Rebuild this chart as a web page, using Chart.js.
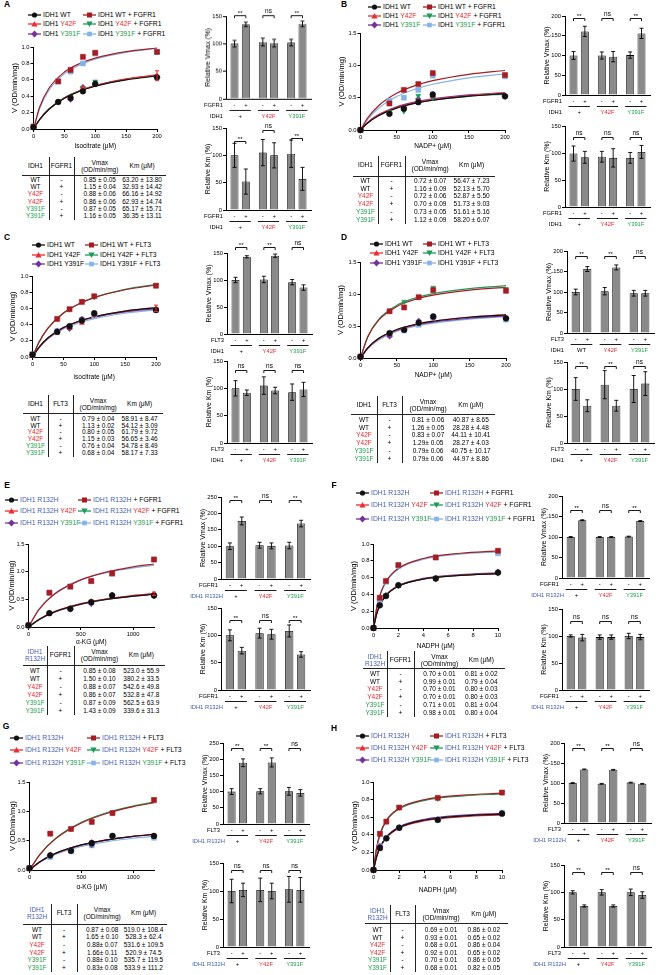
<!DOCTYPE html>
<html>
<head>
<meta charset="utf-8">
<script src="https://cdn.jsdelivr.net/npm/chart.js@4/dist/chart.umd.min.js"></script>
<style>
  html, body { margin: 0; background: #fff; }
  #fig { position: relative; width: 658px; height: 975px; overflow: hidden; font-family: "Liberation Sans", Arial, Helvetica, sans-serif; color: #000; }
  #fig canvas { position: absolute; }
</style>
</head>
<body>
<div id="fig"></div>
<script>
// Series order everywhere: WT, WT + kinase, Y42F, Y42F + kinase, Y391F, Y391F + kinase

// α-KG axis tick labels (panels E and G)
const kgTicks = [0, 500, 1000];

// ─── Panel A: isocitrate, IDH1 ± FGFR1 ─────────────────────────
const subA = [0, 40, 60, 80, 100, 200];
const obsA = [
  [0.02, 0.33, 0.38, 0.46, 0.55, 0.63],
  [0.03, 0.58, 0.72, 0.88, 0.93, 0.94],
  [0.03, 0.33, 0.37, 0.50, 0.55, 0.65],
  [0.03, 0.33, 0.39, 0.50, 0.58, 0.62],
  [0.03, 0.33, 0.36, 0.51, 0.55, 0.63],
  [0.03, 0.58, 0.70, 0.80, 0.92, 0.94]
];
const errA = [0, 0, 0, 0, 0, 0.06];
const fitSubA = [0, 10, 25, 50, 75, 100, 150, 200];
const fitA = [
  [0, 0.116, 0.241, 0.375, 0.461, 0.521, 0.598, 0.646],
  [0, 0.268, 0.497, 0.694, 0.799, 0.865, 0.943, 0.988],
  [0, 0.115, 0.241, 0.379, 0.467, 0.529, 0.611, 0.661],
  [0, 0.118, 0.245, 0.381, 0.468, 0.528, 0.606, 0.654],
  [0, 0.116, 0.241, 0.378, 0.465, 0.527, 0.606, 0.656],
  [0, 0.250, 0.473, 0.672, 0.781, 0.851, 0.934, 0.982]
];
const vmaxA = [100, 135, 103, 101, 102, 136];
const vmaxErrA = [6, 4, 7, 7, 6, 5];
const vmaxSigA = ['**', 'ns', '**'];
const vmaxBrA = [152, 152, 152];
const kmA = [100, 52, 105, 100, 103, 57];
const kmErrA = [22, 23, 24, 23, 25, 21];
const kmSigA = ['**', 'ns', '**'];
const kmBrA = [126, 146, 132];
const vmaxTblA = ['0.85 ± 0.05', '1.15 ± 0.04', '0.88 ± 0.06', '0.86 ± 0.06', '0.87 ± 0.05', '1.16 ± 0.05'];
const kmTblA = ['63.20 ± 13.80', '32.93 ± 14.42', '66.16 ± 14.92', '62.93 ± 14.74', '65.17 ± 15.71', '36.35 ± 13.11'];

// ─── Panel B: NADP+, IDH1 ± FGFR1 ──────────────────────────────
const subB = [0, 40, 60, 80, 100, 200];
const obsB = [
  [0, 0.25, 0.33, 0.43, 0.55, 0.52],
  [0, 0.41, 0.62, 0.71, 0.88, 0.85],
  [0, 0.26, 0.35, 0.45, 0.53, 0.53],
  [0, 0.28, 0.29, 0.53, 0.50, 0.52],
  [0, 0.27, 0.35, 0.48, 0.51, 0.53],
  [0, 0.45, 0.50, 0.62, 0.84, 0.83]
];
const fitSubB = [0, 10, 25, 50, 75, 100, 150, 200];
const fitB = [
  [0, 0.108, 0.221, 0.338, 0.411, 0.460, 0.523, 0.561],
  [0, 0.187, 0.376, 0.568, 0.684, 0.763, 0.861, 0.920],
  [0, 0.115, 0.231, 0.350, 0.422, 0.471, 0.532, 0.569],
  [0, 0.113, 0.228, 0.344, 0.414, 0.461, 0.521, 0.556],
  [0, 0.118, 0.238, 0.359, 0.432, 0.482, 0.543, 0.580],
  [0, 0.164, 0.337, 0.518, 0.631, 0.708, 0.807, 0.868]
];
const vmaxB = [100, 161, 100, 97, 101, 156];
const vmaxErrB = [10, 13, 9, 13, 8, 13];
const vmaxSigB = ['**', 'ns', '**'];
const vmaxBrB = [194, 194, 194];
const kmB = [99, 92, 93, 91, 91, 102];
const kmErrB = [14, 11, 10, 17, 10, 12];
const kmSigB = ['ns', 'ns', 'ns'];
const kmBrB = [130, 130, 130];
const vmaxTblB = ['0.72 ± 0.07', '1.16 ± 0.09', '0.72 ± 0.06', '0.70 ± 0.09', '0.73 ± 0.05', '1.12 ± 0.09'];
const kmTblB = ['56.47 ± 7.23', '52.13 ± 5.70', '52.87 ± 5.50', '51.73 ± 9.03', '51.61 ± 5.16', '58.20 ± 6.07'];

// ─── Panel C: isocitrate, IDH1 ± FLT3 ──────────────────────────
const subC = [0, 40, 60, 80, 100, 200];
const obsC = [
  [0.03, 0.31, 0.38, 0.45, 0.54, 0.58],
  [0.03, 0.47, 0.59, 0.68, 0.75, 0.88],
  [0.03, 0.30, 0.36, 0.42, 0.52, 0.60],
  [0.03, 0.47, 0.59, 0.69, 0.74, 0.89],
  [0.03, 0.32, 0.35, 0.47, 0.52, 0.58],
  [0.03, 0.32, 0.37, 0.46, 0.51, 0.58]
];
const errC = [0, 0, 0, 0, 0, 0.04];
const fitSubC = [0, 10, 25, 50, 75, 100, 150, 200];
const fitC = [
  [0, 0.115, 0.235, 0.363, 0.442, 0.497, 0.567, 0.610],
  [0, 0.176, 0.357, 0.543, 0.656, 0.733, 0.830, 0.889],
  [0, 0.111, 0.230, 0.358, 0.439, 0.494, 0.567, 0.611],
  [0, 0.173, 0.352, 0.539, 0.655, 0.734, 0.835, 0.896],
  [0, 0.117, 0.238, 0.363, 0.439, 0.491, 0.557, 0.597],
  [0, 0.110, 0.225, 0.347, 0.422, 0.474, 0.540, 0.581]
];
const vmaxC = [100, 143, 101, 145, 96, 86];
const vmaxErrC = [5, 2, 6, 3, 5, 5];
const vmaxSigC = ['**', '**', 'ns'];
const vmaxBrC = [162, 162, 162];
const kmC = [100, 92, 105, 96, 93, 98];
const kmErrC = [14, 5, 16, 6, 15, 13];
const kmSigC = ['ns', 'ns', 'ns'];
const kmBrC = [134, 134, 134];
const vmaxTblC = ['0.79 ± 0.04', '1.13 ± 0.02', '0.80 ± 0.05', '1.15 ± 0.03', '0.76 ± 0.04', '0.68 ± 0.04'];
const kmTblC = ['58.91 ± 8.47', '54.12 ± 3.09', '61.79 ± 9.72', '56.65 ± 3.46', '54.78 ± 8.49', '58.17 ± 7.33'];

// ─── Panel D: NADP+, IDH1 ± FLT3 ───────────────────────────────
const subD = [0, 40, 60, 80, 100, 200];
const obsD = [
  [0.02, 0.39, 0.44, 0.55, 0.65, 0.62],
  [0.02, 0.73, 0.79, 0.95, 1.06, 1.05],
  [0.02, 0.37, 0.44, 0.55, 0.64, 0.62],
  [0.02, 0.74, 0.88, 0.95, 1.10, 1.08],
  [0.02, 0.34, 0.44, 0.58, 0.63, 0.62],
  [0.02, 0.36, 0.43, 0.52, 0.63, 0.60]
];
const fitSubD = [0, 10, 25, 50, 75, 100, 150, 200];
const fitD = [
  [0, 0.159, 0.307, 0.446, 0.524, 0.575, 0.637, 0.673],
  [0, 0.329, 0.591, 0.805, 0.915, 0.982, 1.060, 1.104],
  [0, 0.153, 0.300, 0.441, 0.523, 0.576, 0.641, 0.680],
  [0, 0.337, 0.605, 0.824, 0.937, 1.006, 1.085, 1.130],
  [0, 0.156, 0.300, 0.435, 0.512, 0.561, 0.621, 0.656],
  [0, 0.144, 0.282, 0.416, 0.494, 0.545, 0.608, 0.645]
];
const vmaxD = [100, 156, 102, 160, 97, 97];
const vmaxErrD = [7, 6, 9, 6, 7, 7];
const vmaxSigD = ['**', '**', 'ns'];
const vmaxBrD = [188, 188, 188];
const kmD = [100, 69, 108, 69, 100, 110];
const kmErrD = [21, 11, 26, 10, 25, 22];
const kmSigD = ['**', '**', 'ns'];
const kmBrD = [143, 143, 143];
const vmaxTblD = ['0.81 ± 0.06', '1.26 ± 0.05', '0.83 ± 0.07', '1.29± 0.05', '0.79± 0.06', '0.79± 0.06'];
const kmTblD = ['40.87 ± 8.65', '28.28 ± 4.48', '44.11 ± 10.41', '28.27 ± 4.03', '40.75 ± 10.17', '44.97 ± 8.86'];

// ─── Panel E: α-KG, IDH1 R132H ± FGFR1 ─────────────────────────
const subE = [0, 200, 400, 600, 800, 1200];
const obsE = [
  [0.03, 0.25, 0.33, 0.45, 0.57, 0.57],
  [0.03, 0.62, 0.73, 0.83, 0.97, 1.22],
  [0.03, 0.25, 0.33, 0.46, 0.56, 0.60],
  [0.03, 0.25, 0.34, 0.46, 0.57, 0.57],
  [0.03, 0.25, 0.32, 0.42, 0.58, 0.56],
  [0.03, 0.62, 0.73, 0.83, 0.96, 1.22]
];
const errE = [0, 0, 0, 0, 0, 0.03];
const fitSubE = [0, 100, 250, 500, 750, 1000, 1200];
const fitE = [
  [0, 0.136, 0.275, 0.415, 0.501, 0.558, 0.592],
  [0, 0.312, 0.595, 0.852, 0.995, 1.087, 1.139],
  [0, 0.137, 0.278, 0.422, 0.511, 0.570, 0.606],
  [0, 0.136, 0.275, 0.416, 0.503, 0.561, 0.596],
  [0, 0.131, 0.268, 0.409, 0.497, 0.557, 0.592],
  [0, 0.325, 0.606, 0.852, 0.984, 1.067, 1.115]
];
const vmaxE = [100, 177, 103, 101, 102, 169];
const vmaxErrE = [10, 12, 9, 9, 10, 10];
const vmaxSigE = ['**', 'ns', '**'];
const vmaxBrE = [241, 241, 241];
const kmE = [100, 72, 104, 102, 108, 65];
const kmErrE = [10, 6, 9, 9, 11, 5];
const kmSigE = ['**', 'ns', '**'];
const kmBrE = [128, 128, 128];
const vmaxTblE = ['0.85 ± 0.08', '1.50 ± 0.10', '0.88 ± 0.07', '0.86 ± 0.07', '0.87 ± 0.09', '1.43 ± 0.09'];
const kmTblE = ['523.0 ± 55.9', '380.2 ± 33.5', '542.6 ± 49.8', '532.8 ± 47.8', '562.5 ± 63.9', '339.6 ± 31.3'];

// ─── Panel F: NADPH, IDH1 R132H ± FGFR1 ────────────────────────
const subF = [0, 0.5, 1, 2, 5, 10];
const obsF = [
  [0, 0.27, 0.38, 0.51, 0.59, 0.66],
  [0, 0.36, 0.56, 0.75, 0.84, 0.92],
  [0, 0.27, 0.38, 0.50, 0.58, 0.66],
  [0, 0.27, 0.39, 0.50, 0.58, 0.65],
  [0, 0.27, 0.39, 0.51, 0.59, 0.67],
  [0, 0.32, 0.55, 0.74, 0.84, 0.89]
];
const fitSubF = [0, 0.25, 0.5, 1, 2, 4, 7, 10];
const fitF = [
  [0, 0.165, 0.267, 0.387, 0.498, 0.582, 0.627, 0.648],
  [0, 0.238, 0.384, 0.553, 0.710, 0.827, 0.890, 0.918],
  [0, 0.167, 0.269, 0.389, 0.500, 0.583, 0.628, 0.648],
  [0, 0.167, 0.269, 0.389, 0.500, 0.583, 0.628, 0.648],
  [0, 0.169, 0.271, 0.392, 0.505, 0.590, 0.636, 0.657],
  [0, 0.233, 0.377, 0.544, 0.700, 0.817, 0.880, 0.907]
];
const vmaxF = [100, 141, 100, 100, 101, 139];
const vmaxErrF = [1, 1, 1, 1, 1, 1];
const vmaxSigF = ['**', 'ns', '**'];
const vmaxBrF = [166, 166, 166];
const kmF = [100, 97, 98, 98, 100, 98];
const kmErrF = [2, 6, 4, 4, 5, 5];
const kmSigF = ['ns', 'ns', 'ns'];
const kmBrF = [128, 128, 128];
const vmaxTblF = ['0.70 ± 0.01', '0.99 ± 0.01', '0.70 ± 0.01', '0.70 ± 0.01', '0.71 ± 0.01', '0.98 ± 0.01'];
const kmTblF = ['0.81 ± 0.02', '0.79 ± 0.04', '0.80 ± 0.03', '0.80 ± 0.03', '0.81 ± 0.04', '0.80 ± 0.04'];

// ─── Panel G: α-KG, IDH1 R132H ± FLT3 ──────────────────────────
const subG = [0, 200, 400, 600, 800, 1200];
const obsG = [
  [0.03, 0.25, 0.33, 0.46, 0.58, 0.58],
  [0.03, 0.62, 0.70, 0.82, 0.97, 1.19],
  [0.03, 0.26, 0.33, 0.47, 0.58, 0.57],
  [0.03, 0.62, 0.70, 0.83, 0.97, 1.21],
  [0.03, 0.24, 0.32, 0.43, 0.58, 0.58],
  [0.03, 0.22, 0.32, 0.42, 0.58, 0.55]
];
const fitSubG = [0, 100, 250, 500, 750, 1000, 1200];
const fitG = [
  [0, 0.141, 0.283, 0.427, 0.514, 0.573, 0.607],
  [0, 0.263, 0.530, 0.802, 0.968, 1.080, 1.146],
  [0, 0.139, 0.281, 0.427, 0.515, 0.575, 0.610],
  [0, 0.267, 0.538, 0.813, 0.980, 1.091, 1.158],
  [0, 0.138, 0.280, 0.425, 0.513, 0.573, 0.608],
  [0, 0.131, 0.265, 0.401, 0.485, 0.541, 0.574]
];
const vmaxG = [100, 189, 101, 190, 101, 96];
const vmaxErrG = [9, 12, 8, 14, 12, 10];
const vmaxSigG = ['**', '**', 'ns'];
const vmaxBrG = [235, 235, 235];
const kmG = [100, 102, 102, 100, 103, 102];
const kmErrG = [21, 12, 21, 14, 23, 22];
const kmSigG = ['ns', 'ns', 'ns'];
const kmBrG = [137, 137, 137];
const vmaxTblG = ['0.87 ± 0.08', '1.65 ± 0.10', '0.88± 0.07', '1.66± 0.11', '0.88± 0.10', '0.83± 0.08'];
const kmTblG = ['519.0 ± 108.4', '528.3 ± 62.4', '531.6 ± 109.5', '520.9 ± 74.5', '535.7 ± 119.5', '533.9 ± 111.2'];

// ─── Panel H: NADPH, IDH1 R132H ± FLT3 ─────────────────────────
const subH = [0, 0.5, 1, 2, 5, 10];
const obsH = [
  [0, 0.25, 0.36, 0.48, 0.57, 0.64],
  [0, 0.41, 0.55, 0.71, 0.82, 0.88],
  [0, 0.24, 0.36, 0.48, 0.57, 0.64],
  [0, 0.42, 0.55, 0.71, 0.81, 0.88],
  [0, 0.27, 0.36, 0.48, 0.57, 0.65],
  [0, 0.27, 0.36, 0.48, 0.57, 0.65]
];
const fitSubH = [0, 0.25, 0.5, 1, 2, 4, 7, 10];
const fitH = [
  [0, 0.155, 0.254, 0.371, 0.483, 0.568, 0.615, 0.635],
  [0, 0.258, 0.404, 0.564, 0.702, 0.800, 0.851, 0.873],
  [0, 0.153, 0.250, 0.366, 0.476, 0.560, 0.606, 0.626],
  [0, 0.256, 0.400, 0.558, 0.694, 0.791, 0.842, 0.864],
  [0, 0.158, 0.257, 0.376, 0.490, 0.576, 0.623, 0.645],
  [0, 0.159, 0.258, 0.374, 0.482, 0.564, 0.609, 0.628]
];
const vmaxH = [100, 134, 98, 133, 101, 98];
const vmaxErrH = [1, 1, 1, 1, 1, 1];
const vmaxSigH = ['**', '**', 'ns'];
const vmaxBrH = [187, 187, 187];
const kmH = [100, 75, 100, 75, 100, 95];
const kmErrH = [3, 2, 5, 2, 6, 6];
const kmSigH = ['**', '**', 'ns'];
const kmBrH = [137, 137, 137];
const vmaxTblH = ['0.69 ± 0.01', '0.93 ± 0.01', '0.68 ± 0.01', '0.92 ± 0.01', '0.70 ± 0.01', '0.68 ± 0.01'];
const kmTblH = ['0.86 ± 0.02', '0.65 ± 0.02', '0.86 ± 0.04', '0.65 ± 0.02', '0.86 ± 0.05', '0.82 ± 0.05'];

// ─── Shared labels / styles ────────────────────────────────────
const MUTANTS = ['WT', 'WT', 'Y42F', 'Y42F', 'Y391F', 'Y391F'];
const KINASE_SIGN = ['-', '+', '-', '+', '-', '+'];
const GROUPS = ['+', 'Y42F', 'Y391F'];

const FONT = '"Liberation Sans", Arial, Helvetica, sans-serif';
const RED = '#e8262d';
const GREEN = '#1d9e4b';
const BLUE = '#4762b6';
const BAR_GREY = '#8a8a8a';
const SERIES_COLORS = ['#111111', '#a61c22', '#ee2b30', '#1c9a57', '#74339b', '#86b4e6'];
const MUT_COLORS = ['#000', '#000', RED, RED, GREEN, GREEN];
const GROUP_COLORS = ['#000', RED, GREEN];
const POINT_STYLES = ['circle', 'rect', 'triangle', 'triangle', 'rectRot', 'rect'];
const POINT_ROT = [0, 0, 0, 180, 0, 0];

// layout of each panel (page pixels)
const PANELS = [
  { letter: 'A', lp: [7, 5], kinase: 'FGFR1', r132h: false, colourLegend: true,
    sub: subA, obs: obsA, err: errA, fitSub: fitSubA, fit: fitA,
    xTitle: 'Isocitrate (μM)', xMax: 200, xStep: 50, yMax: 1, yStep: 0.2,
    vmax: vmaxA, vmaxErr: vmaxErrA, vmaxSig: vmaxSigA, vmaxBr: vmaxBrA, vmaxTop: 150,
    km: kmA, kmErr: kmErrA, kmSig: kmSigA, kmBr: kmBrA, vmaxTbl: vmaxTblA, kmTbl: kmTblA,
    leg: { rows: [15, 24, 34], l: 28, r: 83 },
    plot: { l: 33, r: 157, t: 47, b: 129, yOff: 19, tOff: 17 },
    tbl: { l: 22, r: 166, v1: 49, v2: 74, hc: 166, line: 175, r0: 180, rh: 7.2 },
    bars: { l: 226, r: 311, vt: 16, vb: 98.5, kt: 128, kb: 210 } },
  { letter: 'B', lp: [344, 5], kinase: 'FGFR1', r132h: false, colourLegend: true,
    sub: subB, obs: obsB, err: null, fitSub: fitSubB, fit: fitB,
    xTitle: 'NADP+ (μM)', xMax: 200, xStep: 50, yMax: 1.5, yStep: 0.5,
    vmax: vmaxB, vmaxErr: vmaxErrB, vmaxSig: vmaxSigB, vmaxBr: vmaxBrB, vmaxTop: 200,
    km: kmB, kmErr: kmErrB, kmSig: kmSigB, kmBr: kmBrB, vmaxTbl: vmaxTblB, kmTbl: kmTblB,
    leg: { rows: [7, 16, 25], l: 368, r: 423 },
    plot: { l: 360, r: 505, t: 33, b: 130, yOff: 19, tOff: 16 },
    tbl: { l: 353, r: 495, v1: 378, v2: 405, hc: 165, line: 176, r0: 181, rh: 7.7 },
    bars: { l: 565, r: 650, vt: 16, vb: 95, kt: 126, kb: 207 } },
  { letter: 'C', lp: [7, 238], kinase: 'FLT3', r132h: false, colourLegend: false,
    sub: subC, obs: obsC, err: errC, fitSub: fitSubC, fit: fitC,
    xTitle: 'isocitrate (μM)', xMax: 200, xStep: 50, yMax: 1, yStep: 0.2,
    vmax: vmaxC, vmaxErr: vmaxErrC, vmaxSig: vmaxSigC, vmaxBr: vmaxBrC, vmaxTop: 150,
    km: kmC, kmErr: kmErrC, kmSig: kmSigC, kmBr: kmBrC, vmaxTbl: vmaxTblC, kmTbl: kmTblC,
    leg: { rows: [245, 255, 264], l: 32, r: 85 },
    plot: { l: 32, r: 156, t: 276, b: 357, yOff: 20, tOff: 20 },
    tbl: { l: 23, r: 163, v1: 48, v2: 73, hc: 404, line: 413, r0: 419, rh: 6.7 },
    bars: { l: 227, r: 312, vt: 253, vb: 334, kt: 361, kb: 443 } },
  { letter: 'D', lp: [344, 238], kinase: 'FLT3', r132h: false, colourLegend: false, groupV: 'WT',
    sub: subD, obs: obsD, err: null, fitSub: fitSubD, fit: fitD,
    xTitle: 'NADP+ (μM)', xMax: 200, xStep: 50, yMax: 1.5, yStep: 0.5,
    vmax: vmaxD, vmaxErr: vmaxErrD, vmaxSig: vmaxSigD, vmaxBr: vmaxBrD, vmaxTop: 200,
    km: kmD, kmErr: kmErrD, kmSig: kmSigD, kmBr: kmBrD, vmaxTbl: vmaxTblD, kmTbl: kmTblD,
    leg: { rows: [244, 253, 263], l: 370, r: 423 },
    plot: { l: 360, r: 506, t: 262, b: 358, yOff: 20, tOff: 17 },
    tbl: { l: 351, r: 495, v1: 377, v2: 402, hc: 405, line: 414, r0: 420, rh: 7.7 },
    bars: { l: 567, r: 654, vt: 251, vb: 333, kt: 362, kb: 443 } },
  { letter: 'E', lp: [7, 486], kinase: 'FGFR1', r132h: true,
    sub: subE, obs: obsE, err: errE, fitSub: fitSubE, fit: fitE, xTicks: kgTicks,
    xTitle: 'α-KG (μM)', xMax: 1200, xStep: 500, yMax: 1.5, yStep: 0.5,
    vmax: vmaxE, vmaxErr: vmaxErrE, vmaxSig: vmaxSigE, vmaxBr: vmaxBrE, vmaxTop: 250,
    km: kmE, kmErr: kmErrE, kmSig: kmSigE, kmBr: kmBrE, vmaxTbl: vmaxTblE, kmTbl: kmTblE,
    leg: { rows: [500, 511, 523], l: 5, r: 78 },
    plot: { l: 28, r: 154, t: 544, b: 627, yOff: 17, tOff: 15 },
    tbl: { l: 23, r: 165, v1: 47, v2: 74, hc: 655, line: 665, r0: 671, rh: 7.9 },
    bars: { l: 221, r: 310, vt: 497, vb: 579, kt: 608, kb: 690 } },
  { letter: 'F', lp: [334, 486], kinase: 'FGFR1', r132h: true,
    sub: subF, obs: obsF, err: null, fitSub: fitSubF, fit: fitF,
    xTitle: 'NADPH (μM)', xMax: 10, xStep: 2, yMax: 1, yStep: 0.2,
    vmax: vmaxF, vmaxErr: vmaxErrF, vmaxSig: vmaxSigF, vmaxBr: vmaxBrF, vmaxTop: 200,
    km: kmF, kmErr: kmErrF, kmSig: kmSigF, kmBr: kmBrF, vmaxTbl: vmaxTblF, kmTbl: kmTblF,
    leg: { rows: [493, 505, 519], l: 356, r: 430 },
    plot: { l: 373, r: 498, t: 544, b: 628, yOff: 20, tOff: 18 },
    tbl: { l: 363, r: 505, v1: 387, v2: 414, hc: 660, line: 668, r0: 674, rh: 7.7 },
    bars: { l: 562, r: 649, vt: 496, vb: 578, kt: 609, kb: 690 } },
  { letter: 'G', lp: [6, 727], kinase: 'FLT3', r132h: true,
    sub: subG, obs: obsG, err: null, fitSub: fitSubG, fit: fitG, xTicks: kgTicks,
    xTitle: 'α-KG (μM)', xMax: 1200, xStep: 500, yMax: 1.5, yStep: 0.5,
    vmax: vmaxG, vmaxErr: vmaxErrG, vmaxSig: vmaxSigG, vmaxBr: vmaxBrG, vmaxTop: 250,
    km: kmG, kmErr: kmErrG, kmSig: kmSigG, kmBr: kmBrG, vmaxTbl: vmaxTblG, kmTbl: kmTblG,
    leg: { rows: [738, 750, 763], l: 10, r: 87 },
    plot: { l: 29, r: 154, t: 782, b: 870, yOff: 17, tOff: 17 },
    tbl: { l: 23, r: 167, v1: 51, v2: 77, hc: 913, line: 924, r0: 929.5, rh: 7.7 },
    bars: { l: 223, r: 309, vt: 743, vb: 824, kt: 863, kb: 947 } },
  { letter: 'H', lp: [334, 729], kinase: 'FLT3', r132h: true,
    sub: subH, obs: obsH, err: null, fitSub: fitSubH, fit: fitH,
    xTitle: 'NADPH (μM)', xMax: 10, xStep: 2, yMax: 1, yStep: 0.2,
    vmax: vmaxH, vmaxErr: vmaxErrH, vmaxSig: vmaxSigH, vmaxBr: vmaxBrH, vmaxTop: 200,
    km: kmH, kmErr: kmErrH, kmSig: kmSigH, kmBr: kmBrH, vmaxTbl: vmaxTblH, kmTbl: kmTblH,
    leg: { rows: [736, 748, 760], l: 356, r: 430 },
    plot: { l: 373, r: 502, t: 782, b: 870, yOff: 19, tOff: 20 },
    tbl: { l: 365, r: 508, v1: 390, v2: 415, hc: 914, line: 923, r0: 930, rh: 7.6 },
    bars: { l: 564, r: 651, vt: 743, vb: 823, kt: 865, kb: 947 } }
];

Chart.defaults.font.family = FONT;
Chart.defaults.color = '#000';

const fig = document.getElementById('fig');

// ─── DOM helpers ───────────────────────────────────────────────
function add(tag, css, html) {
  const e = document.createElement(tag);
  e.style.cssText = css;
  if (html != null) e.innerHTML = html;
  fig.appendChild(e);
  return e;
}

function text(x, y, html, size, align, extra) {
  const tx = align === 'left' ? '0' : align === 'right' ? '-100%' : '-50%';
  return add('div', `position:absolute;left:${x}px;top:${y}px;transform:translate(${tx},-50%);` +
    `white-space:nowrap;line-height:1.15;font-size:${size}px;text-align:center;${extra || ''}`, html);
}

function rule(x, y, w, h) {
  add('div', `position:absolute;left:${x}px;top:${y}px;width:${w}px;height:${h}px;background:#222;`);
}

function makeCanvas(left, top, w, h) {
  const cv = document.createElement('canvas');
  cv.width = w; cv.height = h;
  cv.style.left = left + 'px'; cv.style.top = top + 'px';
  cv.style.width = w + 'px'; cv.style.height = h + 'px';
  fig.appendChild(cv);
  return cv;
}

const col = (c, s) => `<span style="color:${c}">${s}</span>`;

// ─── Legend ────────────────────────────────────────────────────
function markerSvg(i) {
  const c = SERIES_COLORS[i];
  const shapes = [
    `<circle cx="6.5" cy="4" r="2.6" fill="${c}"/>`,
    `<rect x="4" y="1.5" width="5" height="5" fill="${c}"/>`,
    `<polygon points="6.5,1 9.6,6.6 3.4,6.6" fill="${c}"/>`,
    `<polygon points="3.4,1.4 9.6,1.4 6.5,7" fill="${c}"/>`,
    `<polygon points="6.5,0.6 9.8,4 6.5,7.4 3.2,4" fill="${c}"/>`,
    `<rect x="4.2" y="1.7" width="4.6" height="4.6" fill="${c}"/>`
  ];
  return `<svg width="13" height="8" style="display:block"><line x1="0" y1="4" x2="13" y2="4" stroke="${c}" stroke-width="1.3"/>${shapes[i]}</svg>`;
}

function legendText(p, i) {
  const plus = i % 2 ? ' + ' + p.kinase : '';
  if (p.r132h) {
    const m = i < 2 ? '' : ' ' + col(MUT_COLORS[i], MUTANTS[i]);
    return col(BLUE, 'IDH1 R132H') + m + plus;
  }
  if (p.colourLegend && i >= 2) return 'IDH1 ' + col(MUT_COLORS[i], MUTANTS[i]) + plus;
  return 'IDH1 ' + MUTANTS[i] + plus;
}

function drawLegend(p) {
  [0, 2, 4].forEach((i, r) => {
    [i, i + 1].forEach((s, c) => {
      const x = c ? p.leg.r : p.leg.l;
      text(x, p.leg.rows[r], markerSvg(s) + `<span style="margin-left:2px">${legendText(p, s)}</span>`,
        6.8, 'left', 'display:flex;align-items:center;');
    });
  });
}

// ─── Kinetic curve chart ───────────────────────────────────────
const pointErrPlugin = {
  id: 'pointErr',
  afterDatasetsDraw(chart) {
    const { ctx } = chart;
    const y = chart.scales.y;
    chart.data.datasets.forEach((ds, i) => {
      if (!ds.errs) return;
      const pts = chart.getDatasetMeta(i).data;
      ctx.save();
      ctx.strokeStyle = ds.borderColor;
      ctx.lineWidth = 1;
      ds.errs.forEach((e, j) => {
        if (!e) return;
        const px = pts[j].x;
        const hi = y.getPixelForValue(ds.data[j].y + e);
        const lo = y.getPixelForValue(ds.data[j].y - e);
        ctx.beginPath();
        ctx.moveTo(px, hi); ctx.lineTo(px, lo);
        ctx.moveTo(px - 2, hi); ctx.lineTo(px + 2, hi);
        ctx.moveTo(px - 2, lo); ctx.lineTo(px + 2, lo);
        ctx.stroke();
      });
      ctx.restore();
    });
  }
};

function drawKinetics(p) {
  const P = p.plot;
  const padL = P.yOff + 4.5, padT = 8, padR = 14, padB = P.tOff + 4;
  const w = P.r - P.l + padL + padR, h = P.b - P.t + padT + padB;
  const cv = makeCanvas(P.l - padL, P.t - padT, w, h);

  const datasets = [];
  p.obs.forEach((ys, i) => {
    datasets.push({
      data: p.sub.map((x, j) => ({ x, y: ys[j] })),
      showLine: false,
      pointStyle: POINT_STYLES[i],
      pointRotation: POINT_ROT[i],
      pointRadius: POINT_STYLES[i] === 'rect' ? 3.6 : 2.9,
      pointBackgroundColor: SERIES_COLORS[i],
      pointBorderColor: SERIES_COLORS[i],
      pointBorderWidth: 0.5,
      borderColor: SERIES_COLORS[i],
      clip: false,
      order: 0,
      errs: i === 2 ? p.err : null
    });
    datasets.push({
      data: p.fitSub.map((x, j) => ({ x, y: p.fit[i][j] })),
      pointRadius: 0,
      borderColor: SERIES_COLORS[i],
      borderWidth: 1.2,
      cubicInterpolationMode: 'monotone',
      fill: false,
      clip: false,
      order: 1
    });
  });

  const axisGrid = { drawOnChartArea: false, color: '#000', tickLength: 3, lineWidth: 1 };
  const axisBorder = { color: '#000', width: 1 };

  new Chart(cv, {
    type: 'line',
    data: { datasets },
    options: {
      responsive: false, animation: false, devicePixelRatio: 1, events: [],
      layout: { padding: { top: padT, right: padR, left: 0, bottom: 0 } },
      plugins: { legend: { display: false }, tooltip: { enabled: false } },
      scales: {
        x: {
          type: 'linear', min: 0, max: p.xMax,
          ticks: { stepSize: p.xStep, includeBounds: false, font: { size: 5.8 }, color: '#000', padding: 1, maxRotation: 0, autoSkip: false, callback: (v) => String(v) },
          afterBuildTicks: (s) => { if (p.xTicks) s.ticks = p.xTicks.map((v) => ({ value: v })); },
          grid: axisGrid, border: axisBorder,
          title: { display: true, text: p.xTitle, font: { size: 6.5 }, color: '#000', padding: 0 },
          afterFit: (s) => { s.height = padB; }
        },
        y: {
          min: 0, max: p.yMax,
          ticks: { stepSize: p.yStep, font: { size: 5.8 }, color: '#000', padding: 1, callback: (v) => v.toFixed(1) },
          grid: axisGrid, border: axisBorder,
          title: { display: true, text: 'V (OD/min/mg)', font: { size: 7.5 }, color: '#000', padding: 0 },
          afterFit: (s) => { s.width = padL; }
        }
      }
    },
    plugins: [pointErrPlugin]
  });
}

// ─── Relative Vmax / Km bar chart ──────────────────────────────
function barExtras(cfg) {
  return {
    id: 'barExtras',
    afterDatasetsDraw(chart) {
      const { ctx } = chart;
      const x = chart.scales.x, y = chart.scales.y;
      const m0 = chart.getDatasetMeta(0).data, m1 = chart.getDatasetMeta(1).data;
      const bars = [m0[0], m1[0], m0[1], m1[1], m0[2], m1[2]];
      ctx.save();
      ctx.strokeStyle = '#000';
      ctx.fillStyle = '#000';
      ctx.lineWidth = 0.9;

      // error bars
      bars.forEach((b, i) => {
        const v = cfg.vals[i], e = cfg.errs[i];
        const hi = y.getPixelForValue(v + e), lo = y.getPixelForValue(v - e);
        ctx.beginPath();
        ctx.moveTo(b.x, hi); ctx.lineTo(b.x, lo);
        ctx.moveTo(b.x - 2, hi); ctx.lineTo(b.x + 2, hi);
        ctx.moveTo(b.x - 2, lo); ctx.lineTo(b.x + 2, lo);
        ctx.stroke();
      });

      // significance brackets
      ctx.textAlign = 'center';
      ctx.textBaseline = 'bottom';
      cfg.sig.forEach((s, k) => {
        const x1 = bars[2 * k].x, x2 = bars[2 * k + 1].x;
        const yb = Math.round(y.getPixelForValue(cfg.br[k])) + 0.5;
        ctx.beginPath();
        ctx.moveTo(x1, yb + 2.5); ctx.lineTo(x1, yb); ctx.lineTo(x2, yb); ctx.lineTo(x2, yb + 2.5);
        ctx.stroke();
        ctx.font = `${s === 'ns' ? 6.5 : 6}px ${FONT}`;
        ctx.fillText(s, (x1 + x2) / 2, s === 'ns' ? yb - 1 : yb + 1);
      });

      // category rows below the axis
      const y0 = y.getPixelForValue(0);
      ctx.font = `5.8px ${FONT}`;
      ctx.textBaseline = 'middle';
      bars.forEach((b, i) => ctx.fillText(KINASE_SIGN[i], b.x, y0 + 6));
      ctx.textAlign = 'right';
      ctx.fillText(cfg.kinase, x.left - 3, y0 + 6);
      ctx.fillStyle = cfg.r132h ? BLUE : '#000';
      ctx.fillText(cfg.r132h ? 'IDH1 R132H' : 'IDH1', x.left + (cfg.r132h ? 2 : -3), y0 + 17);
      ctx.textAlign = 'center';
      GROUPS.forEach((g, k) => {
        const x1 = bars[2 * k].x, x2 = bars[2 * k + 1].x;
        ctx.beginPath();
        ctx.moveTo(x1 - 5, y0 + 11.5); ctx.lineTo(x2 + 5, y0 + 11.5);
        ctx.stroke();
        ctx.fillStyle = GROUP_COLORS[k];
        ctx.fillText(k === 0 ? cfg.group0 : g, (x1 + x2) / 2, y0 + 17);
      });
      ctx.restore();
    }
  };
}

function drawBars(p, kind) {
  const B = p.bars;
  const isV = kind === 'vmax';
  const top = isV ? B.vt : B.kt, bot = isV ? B.vb : B.kb;
  const vals = isV ? p.vmax : p.km;
  const max = isV ? p.vmaxTop : 150;
  const left = 42, yW = 22, padT = 16, padR = 4, padB = 24;
  const w = B.r - B.l + left + padR, h = bot - top + padT + padB;
  const cv = makeCanvas(B.l - left, top - padT, w, h);

  const barStyle = {
    backgroundColor: BAR_GREY, borderColor: '#000', borderWidth: 0.8,
    categoryPercentage: 0.8, barPercentage: 0.7
  };

  new Chart(cv, {
    type: 'bar',
    data: {
      labels: GROUPS,
      datasets: [
        Object.assign({ data: [vals[0], vals[2], vals[4]] }, barStyle),
        Object.assign({ data: [vals[1], vals[3], vals[5]] }, barStyle)
      ]
    },
    options: {
      responsive: false, animation: false, devicePixelRatio: 1, events: [],
      layout: { padding: { top: padT, right: padR, left: left - yW, bottom: 0 } },
      plugins: { legend: { display: false }, tooltip: { enabled: false } },
      scales: {
        x: {
          grid: { display: false }, ticks: { display: false },
          border: { color: '#000', width: 1 },
          afterFit: (s) => { s.height = padB; }
        },
        y: {
          min: 0, max,
          ticks: { stepSize: 50, font: { size: 5.8 }, color: '#000', padding: 1 },
          grid: { drawOnChartArea: false, color: '#000', tickLength: 3 },
          border: { color: '#000', width: 1 },
          title: { display: true, text: isV ? 'Relative Vmax (%)' : 'Relative Km (%)', font: { size: 7 }, color: '#000', padding: 0 },
          afterFit: (s) => { s.width = yW; }
        }
      }
    },
    plugins: [barExtras({
      vals, errs: isV ? p.vmaxErr : p.kmErr,
      sig: isV ? p.vmaxSig : p.kmSig, br: isV ? p.vmaxBr : p.kmBr,
      kinase: p.kinase, r132h: p.r132h,
      group0: isV && p.groupV ? p.groupV : '+'
    })]
  });
}

// ─── Kinetic parameter table ───────────────────────────────────
function drawTable(p) {
  const T = p.tbl;
  const c1 = (T.l + T.v1) / 2, c2 = (T.v1 + T.v2) / 2;
  const c3 = T.v2 + 0.28 * (T.r - T.v2), c4 = T.v2 + 0.74 * (T.r - T.v2);
  const fs = 6.5;
  text(c1, T.hc, p.r132h ? col(BLUE, 'IDH1<br>R132H') : 'IDH1', fs);
  text(c2, T.hc, p.kinase, fs);
  text(c3, T.hc, 'Vmax<br>(OD/min/mg)', fs);
  text(c4, T.hc, 'Km (μM)', fs);
  rule(T.l, T.line, T.r - T.l, 1);
  const vTop = T.hc - 9, vBot = T.r0 + 5 * T.rh + 4;
  rule(T.v1, vTop, 1, vBot - vTop);
  rule(T.v2, vTop, 1, vBot - vTop);
  MUTANTS.forEach((m, i) => {
    const ry = T.r0 + i * T.rh;
    text(c1, ry, col(MUT_COLORS[i], m), fs);
    text(c2, ry, KINASE_SIGN[i], fs);
    text(c3, ry, p.vmaxTbl[i], fs);
    text(c4, ry, p.kmTbl[i], fs);
  });
}

// ─── Build figure ──────────────────────────────────────────────
PANELS.forEach((p) => {
  text(p.lp[0], p.lp[1], p.letter, 8.5, 'center', 'font-weight:bold;');
  drawLegend(p);
  drawKinetics(p);
  drawTable(p);
  drawBars(p, 'vmax');
  drawBars(p, 'km');
});
</script>
</body>
</html>
